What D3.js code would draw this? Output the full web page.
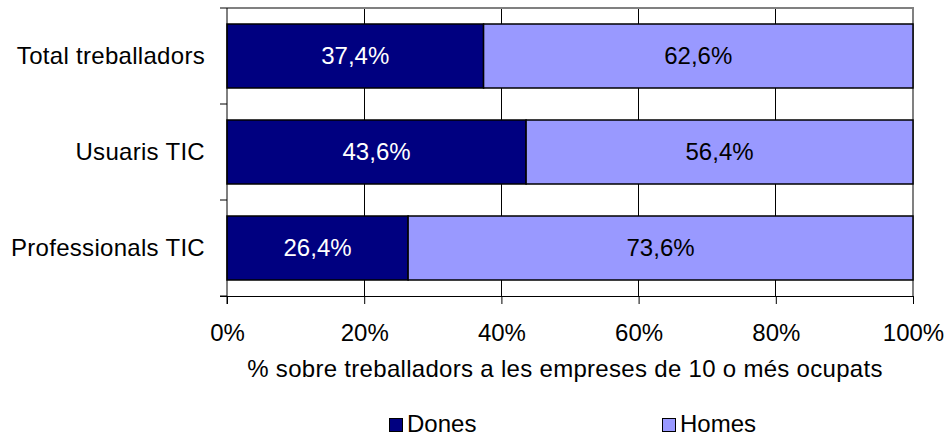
<!DOCTYPE html>
<html><head><meta charset="utf-8">
<script src="https://cdn.jsdelivr.net/npm/d3@7"></script>
<style>body{margin:0;background:#fff}svg{display:block}text{font-family:"Liberation Sans",Arial,sans-serif}</style>
</head><body>
<svg id="c" width="948" height="437"></svg>
<script>
const categories = ["Total treballadors", "Usuaris TIC", "Professionals TIC"];
const dones = [37.4, 43.6, 26.4];
const homes = [62.6, 56.4, 73.6];
const seriesNames = ["Dones", "Homes"];
const xTicks = [0, 20, 40, 60, 80, 100];
const axisTitle = "% sobre treballadors a les empreses de 10 o més ocupats";

const colors = ["#000080", "#9999FF"];
const textColors = ["#ffffff", "#000000"];
const FS = 24;
const svg = d3.select("#c");
const m = {l: 227, r: 913, t: 8, b: 296};
const x = d3.scaleLinear().domain([0, 100]).range([m.l, m.r]);
const y = d3.scaleBand().domain(categories).range([m.t, m.b]).paddingInner(1/3).paddingOuter(1/6);
const fmt = v => v.toFixed(1).replace(".", ",") + "%";

// gridlines
svg.append("g").selectAll("line").data(xTicks.slice(1, -1)).join("line")
  .attr("x1", d => x(d)).attr("x2", d => x(d)).attr("y1", m.t).attr("y2", m.b)
  .attr("stroke", "#000").attr("stroke-width", 1).attr("shape-rendering", "crispEdges");
// plot border top/right
svg.append("path").attr("d", `M${m.l},${m.t}H${m.r}V${m.b}`).attr("fill", "none")
  .attr("stroke", "#808080").attr("stroke-width", 2);

const data = categories.map((c, i) => ({c, vals: [dones[i], homes[i]]}));
const stacks = d3.stack().keys([0, 1]).value((d, k) => d.vals[k])(data);

stacks.forEach((s, k) => {
  const g = svg.append("g");
  g.selectAll("rect").data(s).join("rect")
    .attr("x", d => x(d[0])).attr("width", d => x(d[1]) - x(d[0]))
    .attr("y", d => y(d.data.c)).attr("height", y.bandwidth())
    .attr("fill", colors[k]).attr("stroke", "#000").attr("stroke-width", 1.5);
  g.selectAll("text").data(s).join("text")
    .attr("x", d => (x(d[0]) + x(d[1])) / 2).attr("y", d => y(d.data.c) + y.bandwidth() / 2)
    .attr("dy", "0.35em").attr("text-anchor", "middle").attr("font-size", FS)
    .attr("fill", textColors[k]).text(d => fmt(d.data.vals[k]));
});

// axes
const xAxis = d3.axisBottom(x).tickValues(xTicks).tickFormat(d => d + "%").tickSize(8).tickPadding(0);
const gx = svg.append("g").attr("transform", `translate(0,${m.b})`).call(xAxis);
gx.select(".domain").attr("d", `M${m.l - 7},0.5H${m.r}`).attr("stroke", "#000");
gx.selectAll("text").attr("font-size", FS).attr("fill", "#000").attr("dy", null).attr("y", 45)
  .attr("font-family", "Liberation Sans, Arial, sans-serif");

const yTickVals = [m.t, m.t + 96, m.t + 192, m.b];
svg.append("g").selectAll("line").data(yTickVals).join("line")
  .attr("x1", m.l - 7).attr("x2", m.l).attr("y1", d => d).attr("y2", d => d).attr("stroke", "#000");
svg.append("line").attr("x1", m.l).attr("x2", m.l).attr("y1", m.t).attr("y2", m.b + 8).attr("stroke", "#000");

svg.append("g").selectAll("text").data(categories).join("text")
  .attr("x", 205).attr("y", d => y(d) + y.bandwidth() / 2).attr("dy", "0.35em")
  .attr("text-anchor", "end").attr("font-size", FS).attr("letter-spacing", 0.3).text(d => d);

svg.append("text").attr("x", (m.l + m.r) / 2 - 5).attr("y", 377).attr("text-anchor", "middle")
  .attr("font-size", FS).attr("letter-spacing", 0.3).text(axisTitle);

// legend
const legX = [389, 662];
const lg = svg.append("g").selectAll("g").data(seriesNames).join("g")
  .attr("transform", (d, i) => `translate(${legX[i]},0)`);
lg.append("rect").attr("x", 0.5).attr("y", 418.5).attr("width", 13).attr("height", 13)
  .attr("fill", (d, i) => colors[i]).attr("stroke", "#000").attr("stroke-width", 1);
lg.append("text").attr("x", 18).attr("y", 432).attr("font-size", FS).text(d => d);
</script>
</body></html>
